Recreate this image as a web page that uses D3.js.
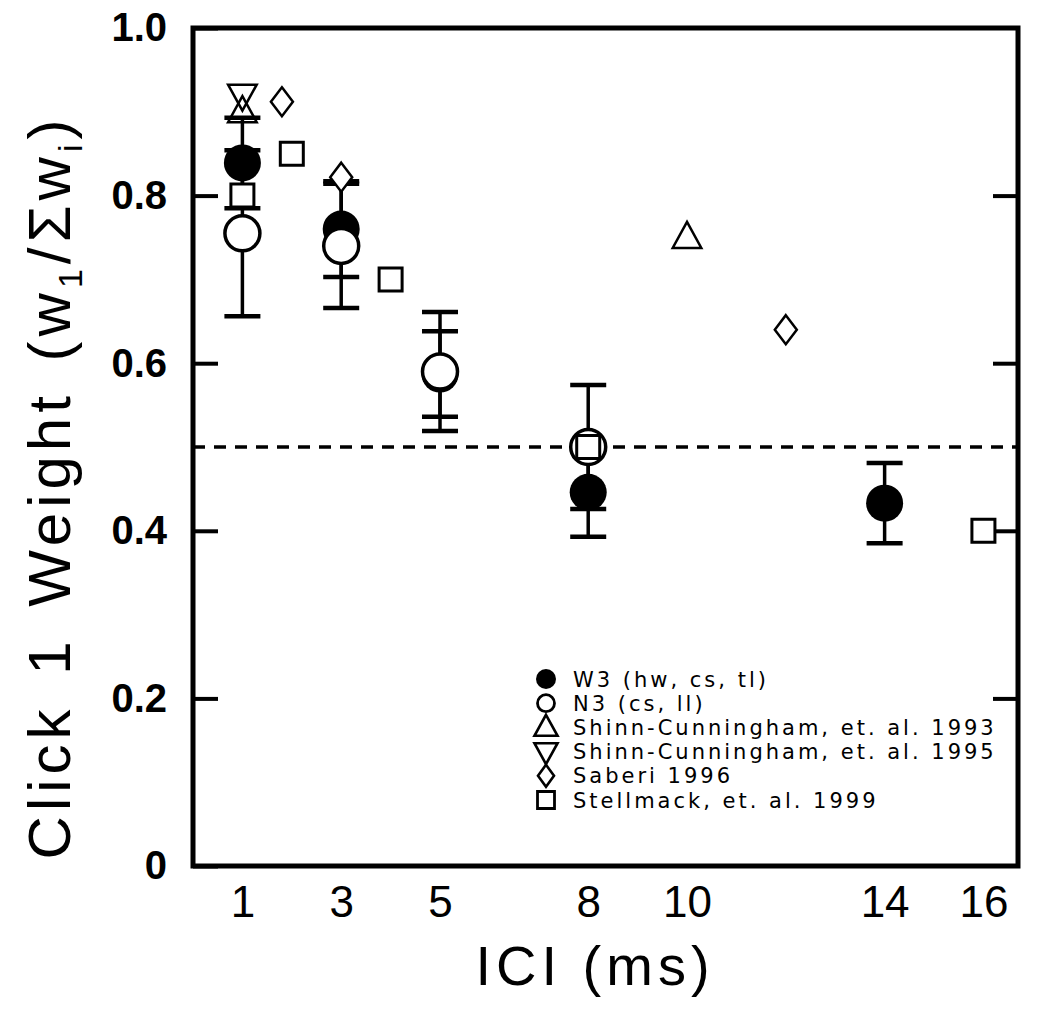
<!DOCTYPE html>
<html><head><meta charset="utf-8">
<script src="https://cdn.jsdelivr.net/npm/d3@7"></script>
<style>body{margin:0;background:#fff}</style>
</head><body>
<svg id="c" width="1050" height="1010"></svg>
<script>
// ---- data ----
const xTicks = [1, 3, 5, 8, 10, 14, 16];
const yTicks = [0, 0.2, 0.4, 0.6, 0.8, 1.0];
const yTickLabels = ["0", "0.2", "0.4", "0.6", "0.8", "1.0"];
const w3X = [1, 3, 5, 8, 14];
const w3Y = [0.839, 0.760, 0.587, 0.446, 0.433];
const w3Err = [0.054, 0.057, 0.051, 0.053, 0.048];
const n3X = [1, 3, 5, 8];
const n3Y = [0.755, 0.740, 0.590, 0.500];
const n3Err = [0.099, 0.074, 0.071, 0.074];
const sc93X = [1, 10];
const sc93Y = [0.90, 0.75];
const sc95X = [1];
const sc95Y = [0.92];
const saberiX = [1.8, 3, 12];
const saberiY = [0.912, 0.822, 0.64];
const stellX = [1, 2, 4, 8, 16];
const stellY = [0.80, 0.85, 0.70, 0.50, 0.40];
const legendLabels = ["W3 (hw, cs, tl)", "N3 (cs, ll)", "Shinn-Cunningham, et. al. 1993",
  "Shinn-Cunningham, et. al. 1995", "Saberi 1996", "Stellmack, et. al. 1999"];
const refLine = 0.5;

// ---- layout ----
const L = 193, R = 1018, T = 28, B = 866;
const svg = d3.select("#c");
const x = d3.scaleLinear().domain([0, 16.7]).range([L, R]);
const y = d3.scaleLinear().domain([0, 1]).range([B, T]);
const font = "'Liberation Sans', Arial, sans-serif";
const font2 = "'DejaVu Sans', sans-serif";

// shape generators
const triUp = s => `M0,${-s*0.6}L${s*0.55},${s*0.4}L${-s*0.55},${s*0.4}Z`;
const triDown = s => `M0,${s*0.6}L${s*0.55},${-s*0.4}L${-s*0.55},${-s*0.4}Z`;
const diamond = (w, h) => `M0,${-h/2}L${w/2},0L0,${h/2}L${-w/2},0Z`;
const square = s => `M${-s/2},${-s/2}h${s}v${s}h${-s}Z`;

// ---- dashed reference line ----
svg.append("line").attr("x1", L).attr("x2", R).attr("y1", y(refLine)).attr("y2", y(refLine))
  .attr("stroke", "#000").attr("stroke-width", 3.5).attr("stroke-dasharray", "12,9");

// ---- y ticks (inside, both sides) ----
const yAxisL = d3.axisLeft(y).tickValues(yTicks).tickSizeInner(-25).tickSizeOuter(0)
  .tickFormat((d, i) => yTickLabels[i]).tickPadding(26);
const gL = svg.append("g").attr("transform", `translate(${L},0)`).call(yAxisL);
gL.select(".domain").remove();
gL.selectAll("line").attr("stroke", "#000").attr("stroke-width", 4);
gL.selectAll("text").attr("font-family", font).attr("font-size", 40).attr("font-weight", "bold").attr("fill", "#000");

const yAxisR = d3.axisRight(y).tickValues(yTicks.filter(v => v > 0 && v < 1)).tickSizeInner(-25).tickSizeOuter(0).tickFormat("");
const gR = svg.append("g").attr("transform", `translate(${R},0)`).call(yAxisR);
gR.select(".domain").remove();
gR.selectAll("line").attr("stroke", "#000").attr("stroke-width", 4);

// ---- x tick labels (no tick marks) ----
const xAxis = d3.axisBottom(x).tickValues(xTicks).tickSize(0).tickPadding(20).tickFormat(d3.format("d"));
const gX = svg.append("g").attr("transform", `translate(0,${B})`).call(xAxis);
gX.select(".domain").remove();
gX.selectAll("text").attr("font-family", font).attr("font-size", 44).attr("fill", "#000");

// ---- error bars ----
function errBars(xs, ys, es) {
  const g = svg.append("g").attr("stroke", "#000").attr("stroke-width", 3.5);
  xs.forEach((xv, i) => {
    const cx = x(xv), lo = y(ys[i] - es[i]), hi = y(ys[i] + es[i]);
    g.append("line").attr("x1", cx).attr("x2", cx).attr("y1", lo).attr("y2", hi);
    g.append("line").attr("x1", cx - 18).attr("x2", cx + 18).attr("y1", lo).attr("y2", lo).attr("stroke-width", 4.5);
    g.append("line").attr("x1", cx - 18).attr("x2", cx + 18).attr("y1", hi).attr("y2", hi).attr("stroke-width", 4.5);
  });
}
errBars(w3X, w3Y, w3Err);
errBars(n3X, n3Y, n3Err);

// ---- markers ----
svg.append("g").selectAll("circle").data(w3X).join("circle")
  .attr("cx", d => x(d)).attr("cy", (d, i) => y(w3Y[i])).attr("r", 18.5).attr("fill", "#000");
svg.append("g").selectAll("circle").data(n3X).join("circle")
  .attr("cx", d => x(d)).attr("cy", (d, i) => y(n3Y[i])).attr("r", 17.5).attr("fill", "#fff")
  .attr("stroke", "#000").attr("stroke-width", 3.5);
svg.append("g").selectAll("path").data(sc93X).join("path")
  .attr("transform", (d, i) => `translate(${x(d)},${y(sc93Y[i])})`).attr("d", triUp(26))
  .attr("fill", "none").attr("stroke", "#000").attr("stroke-width", 2.5);
svg.append("g").selectAll("path").data(sc95X).join("path")
  .attr("transform", (d, i) => `translate(${x(d)},${y(sc95Y[i])})`).attr("d", triDown(26))
  .attr("fill", "none").attr("stroke", "#000").attr("stroke-width", 2.5);
svg.append("g").selectAll("path").data(saberiX).join("path")
  .attr("transform", (d, i) => `translate(${x(d)},${y(saberiY[i])})`).attr("d", diamond(22, 29))
  .attr("fill", "#fff").attr("stroke", "#000").attr("stroke-width", 2.5);
svg.append("g").selectAll("path").data(stellX).join("path")
  .attr("transform", (d, i) => `translate(${x(d)},${y(stellY[i])})`).attr("d", square(23))
  .attr("fill", "#fff").attr("stroke", "#000").attr("stroke-width", 3);

// ---- frame ----
svg.append("rect").attr("x", L).attr("y", T).attr("width", R - L).attr("height", B - T)
  .attr("fill", "none").attr("stroke", "#000").attr("stroke-width", 5);

// ---- legend ----
const lgX = 546, lgTx = 573, lgY0 = 679, lgDy = 24.2;
const lg = svg.append("g");
const legendShapes = [
  g => g.append("circle").attr("r", 10).attr("fill", "#000"),
  g => g.append("circle").attr("r", 8.5).attr("fill", "none").attr("stroke", "#000").attr("stroke-width", 2.8),
  g => g.append("path").attr("d", triUp(21)).attr("fill", "none").attr("stroke", "#000").attr("stroke-width", 2.6),
  g => g.append("path").attr("d", triDown(21)).attr("fill", "none").attr("stroke", "#000").attr("stroke-width", 2.6),
  g => g.append("path").attr("d", diamond(16, 22)).attr("fill", "none").attr("stroke", "#000").attr("stroke-width", 2.6),
  g => g.append("path").attr("d", square(17)).attr("fill", "none").attr("stroke", "#000").attr("stroke-width", 2.8)
];
legendLabels.forEach((lab, i) => {
  const yy = lgY0 + i * lgDy;
  legendShapes[i](lg.append("g").attr("transform", `translate(${lgX},${yy})`));
  lg.append("text").attr("x", lgTx).attr("y", yy).attr("dy", "0.36em")
    .attr("font-family", font2).attr("font-size", 21).attr("letter-spacing", 3).attr("fill", "#000").text(lab);
});

// ---- axis titles ----
svg.append("text").attr("x", 595).attr("y", 985).attr("text-anchor", "middle")
  .attr("font-family", font).attr("font-size", 56).attr("letter-spacing", 5).attr("fill", "#000").text("ICI (ms)");
const yt = svg.append("text").attr("transform", "translate(70,487) rotate(-90)").attr("text-anchor", "middle")
  .attr("font-family", font).attr("font-size", 60).attr("letter-spacing", 5).attr("word-spacing", 8).attr("fill", "#000");
yt.append("tspan").text("Click 1 Weight (w");
yt.append("tspan").attr("font-size", 34).attr("dy", 12).text("1");
yt.append("tspan").attr("dy", -12).text("/Σw");
yt.append("tspan").attr("font-size", 34).attr("dy", 12).text("i");
yt.append("tspan").attr("dy", -12).text(")");
</script>
</body></html>
